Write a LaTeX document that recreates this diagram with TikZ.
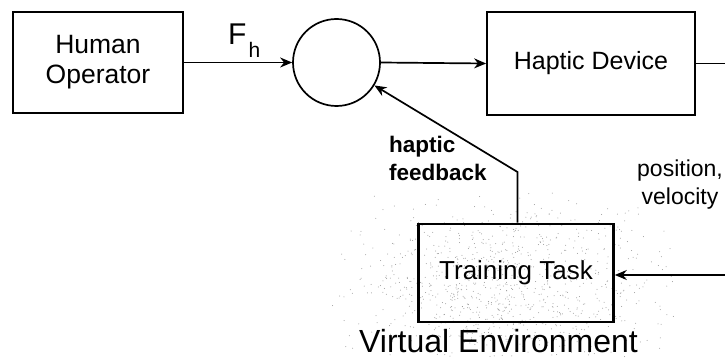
\documentclass[tikz,border=0pt]{standalone}
\usepackage{fontspec}
\setmainfont{Liberation Sans}
\usetikzlibrary{arrows.meta,calc}

\begin{document}
\begin{tikzpicture}[x=1pt,y=-1pt,
  block/.style={draw=black,line width=1.8pt,minimum width=170pt,minimum height=101pt,inner sep=0pt,
    font=\fontsize{25}{29}\selectfont,align=center},
  wire/.style={line width=1.7pt,-{Stealth[length=12pt,width=10pt]}},
  plainwire/.style={line width=1.7pt},
  lbl/.style={inner sep=0pt,font=\fontsize{23}{28}\selectfont,align=center}]
\useasboundingbox (0,0) rectangle (725,358);

% speckled haze of the virtual environment (soft-edged random stipple)
\pgfmathsetseed{4242}
\foreach \i in {1,...,1000}{
  \pgfmathsetmacro\px{503+88*(rand+rand)}
  \pgfmathsetmacro\py{285+48*(rand+rand)}
  \fill[black!40] (\px,\py) circle (0.5pt);
}

% blocks
\node[block,font=\fontsize{26.5}{30}\selectfont] (ho) at (98,62.5) {Human\\Operator};
\node[draw=black,line width=1.7pt,circle,minimum size=87pt,inner sep=0pt] (sum) at (336.5,62.5) {};
\node[block,minimum width=208pt,minimum height=103pt] (hd) at (591,63.5) {Haptic Device};
\node[block,line width=2.6pt,minimum width=195pt,minimum height=98pt,font=\fontsize{26}{30}\selectfont] (tt) at (516,273) {Training Task};

% labels
\node[inner sep=0pt,anchor=base west,font=\fontsize{30}{30}\selectfont] (fh) at (228,45)
  {F\hspace{2pt}\raisebox{-13pt}{\fontsize{21}{21}\selectfont h}};
\node[lbl,font=\bfseries\fontsize{22.5}{28}\selectfont,align=left,anchor=north west] (hf) at (389,136) {haptic\\feedback};
\node[lbl,anchor=north] (pv) at (680,160) {position,\\velocity};
\node[inner sep=0pt,anchor=base west,font=\fontsize{32}{32}\selectfont] (ve) at (359,352) {Virtual Environment};

% connections
\coordinate (hdout) at (725,63.5);
\coordinate (ttin) at (725,275);
\coordinate (bend) at (517.5,172);
\draw[wire] (ho.east) -- (sum.west);
\draw[wire] (sum.east) -- (hd.west);
\draw[plainwire] (hd.east) -- (hdout);
\draw[wire] (ttin) -- (tt.east |- ttin);
\draw[wire] (tt.north -| bend) -- (bend) -- (sum);
\end{tikzpicture}
\end{document}
